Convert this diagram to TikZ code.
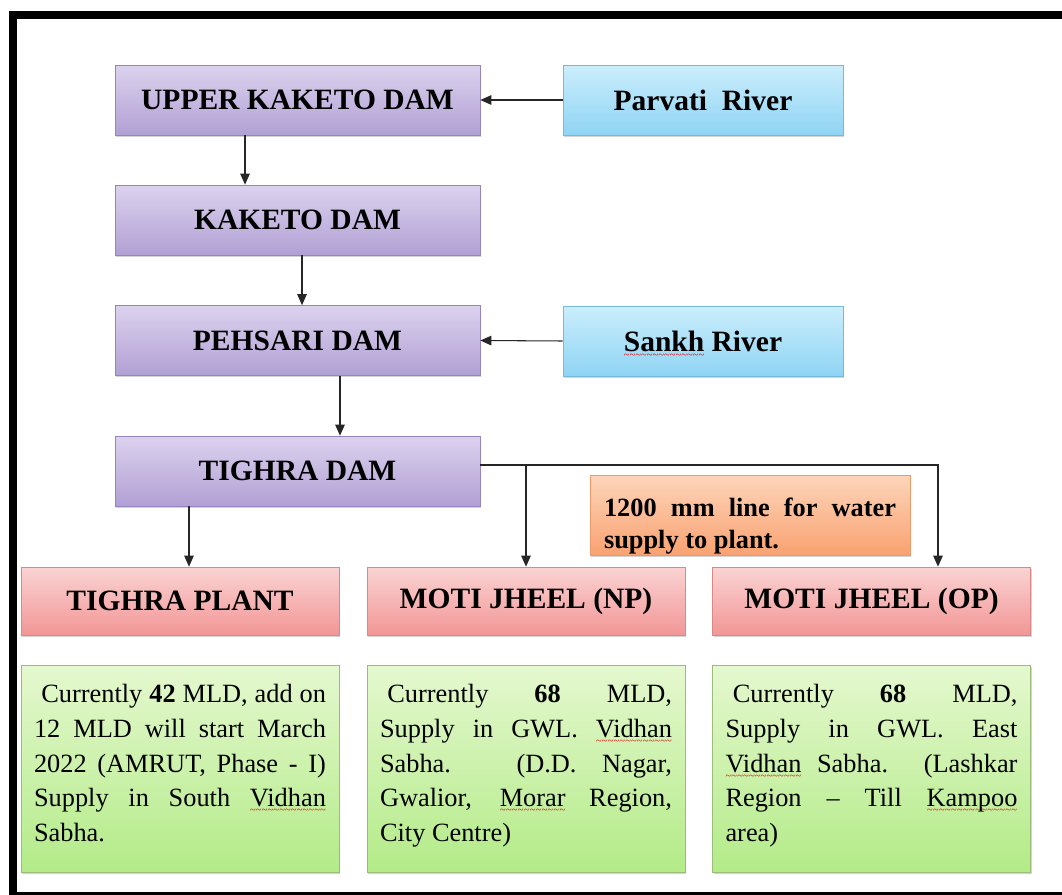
\documentclass[tikz,border=0pt]{standalone}
\usepackage{fontspec}
\setmainfont{Liberation Serif}
\usetikzlibrary{arrows.meta, shadows}

\definecolor{damtop}{HTML}{DCD2EE}
\definecolor{dambot}{HTML}{B1A0D4}
\definecolor{damline}{HTML}{9484C0}
\definecolor{rivertop}{HTML}{CBEEFC}
\definecolor{riverbot}{HTML}{8FD4F4}
\definecolor{riverline}{HTML}{77B9DA}
\definecolor{planttop}{HTML}{FBD3D3}
\definecolor{plantbot}{HTML}{F29696}
\definecolor{plantline}{HTML}{D98888}
\definecolor{infotop}{HTML}{E5F8CF}
\definecolor{infobot}{HTML}{B3EB88}
\definecolor{infoline}{HTML}{9BBD79}
\definecolor{notetop}{HTML}{FDD5BA}
\definecolor{notebot}{HTML}{F9A271}
\definecolor{noteline}{HTML}{EE9B6C}

% red wavy underline, as the spell checker marks words
\newcommand{\spellmark}[1]{\setbox0=\hbox{#1}%
	\rlap{\raisebox{-4pt}[0pt][0pt]{\hbox to \wd0{\color{red!85!black}\fontsize{6}{6}\selectfont\mdseries\xleaders\hbox{\char`\~}\hfill}}}\box0\relax}

\begin{document}
\begin{tikzpicture}[
		x=0.02cm, y=-0.02cm,
		box/.style={draw, inner sep=2pt, font=\fontsize{16.8}{20}\selectfont\bfseries,
			drop shadow={shadow xshift=0.7pt, shadow yshift=-0.9pt, opacity=0.35}},
		dam/.style={box, minimum width=7.3cm, minimum height=1.4cm, top color=damtop, bottom color=dambot, draw=damline},
		river/.style={box, minimum width=5.6cm, minimum height=1.4cm, top color=rivertop, bottom color=riverbot, draw=riverline},
		plant/.style={box, minimum width=6.36cm, minimum height=1.36cm, top color=planttop, bottom color=plantbot, draw=plantline},
		info/.style={box, font=\fontsize{15}{19.8}\selectfont, minimum width=6.36cm, minimum height=4.14cm,
			text width=5.84cm, text height=10.5pt, text depth=85.6pt, align=justify,
			top color=infotop, bottom color=infobot, draw=infoline},
		note/.style={box, font=\fontsize{15}{18}\selectfont\bfseries, minimum width=6.4cm, minimum height=1.6cm,
			inner ysep=0pt, text width=5.84cm, text height=23pt, text depth=20.8pt, align=justify,
			top color=notetop, bottom color=notebot, draw=noteline},
		arr/.style={-{Triangle[length=2.2mm, width=1.9mm]}, line width=0.6pt, black!85}
		]
		
		\clip (0,0) rectangle (1062,895);
		
		% Dams down the left side
		\node[dam] (upper) at (297.5, 100) {UPPER KAKETO DAM};
		\node[dam] (kaketo) at (297.5, 220) {KAKETO DAM};
		\node[dam] (pehsari) at (297.5, 340.5) {PEHSARI DAM};
		\node[dam] (tighra) at (297.5, 471) {TIGHRA DAM};
		
		% Rivers feeding the dams
		\node[river] (parvati) at (703, 100) {Parvati\ \ River};
		\node[river] (sankh) at (703, 341) {\spellmark{Sankh} River};
		
		% Treatment plants
		\foreach \n/\x/\name in {plant/180/TIGHRA PLANT, np/526/MOTI JHEEL (NP), op/871.5/MOTI JHEEL (OP)} {
			\node[plant] (\n) at (\x, 601) {\name};
		}
		
		% Note on the pipeline
		\node[note] (pipe) at (750, 515) {1200 mm line for water\linebreak supply to plant.};
		
		% Supply details under each plant
		\node[info] (plantinfo) at (180, 768.5) {
			\hspace{0.28em}Currently \textbf{42} MLD, add on\linebreak
			12 MLD will start March\linebreak
			2022 (AMRUT, Phase - I)\linebreak
			Supply in South \spellmark{Vidhan}\linebreak
			Sabha.};
		\node[info] (npinfo) at (526, 768.5) {
			\hspace{0.28em}Currently \textbf{68} MLD,\linebreak
			Supply in GWL. \spellmark{Vidhan}\linebreak
			Sabha. (D.D. Nagar,\linebreak
			Gwalior, \spellmark{Morar} Region,\linebreak
			City Centre)};
		\node[info] (opinfo) at (871.5, 768.5) {
			\hspace{0.28em}Currently \textbf{68} MLD,\linebreak
			Supply in GWL. East\linebreak
			\spellmark{Vidhan} Sabha. (Lashkar\linebreak
			Region -- Till \spellmark{Kampoo}\linebreak
			area)};
		
		% Flow between the dams
		\draw[arr] (parvati.west) -- (upper.east);
		\draw[arr] (sankh.west) -- (pehsari.east);
		\draw[arr] ([xshift=-1.05cm]upper.south) -- ([xshift=-1.05cm]kaketo.north);
		\draw[arr] ([xshift=0.09cm]kaketo.south) -- ([xshift=0.09cm]kaketo.south |- pehsari.north);
		\draw[arr] ([xshift=0.85cm]pehsari.south) -- ([xshift=0.85cm]pehsari.south |- tighra.north);
		
		% Flow from Tighra dam to the plants
		\draw[arr] ([xshift=0.18cm]plant.north |- tighra.south) -- ([xshift=0.18cm]plant.north);
		\coordinate (tap) at ([yshift=0.12cm]tighra.east);
		\draw[arr] (tap) -| ([xshift=1.33cm]op.north);
		\draw[arr] (tap -| np.north) -- (np.north);
		
		% Outer frame
		\draw[line width=0.16cm] (13,15.5) rectangle (1090,895.5);
		
	\end{tikzpicture}
\end{document}
